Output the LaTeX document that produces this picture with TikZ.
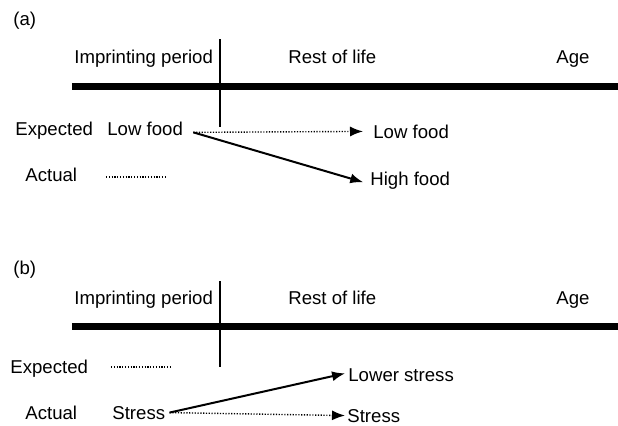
\documentclass[tikz,border=0pt]{standalone}
\usepackage{fontspec}
\setmainfont{Liberation Sans}
\usepackage{tikz}
\usetikzlibrary{arrows.meta}

\tikzset{
	lbl/.style={shape=rectangle,inner sep=0pt,anchor=base west,font=\fontsize{9.3}{11}\selectfont},
	axis/.style={line width=3.5pt},
	split/.style={line width=1.2pt},
	dots/.style={line width=0.7pt,dash pattern=on 0.6pt off 0.8pt},
	tip/.style={-{Latex[length=6.5pt,width=5pt]}},
	arr/.style={line width=1pt,tip}
}

\begin{document}
\begin{tikzpicture}[x=0.5pt,y=-0.5pt]
	\useasboundingbox (0,0) rectangle (618,425);
	
	% panel (a)
	\node[lbl] (tagA) at (13,25) {(a)};
	\node[lbl] (impA) at (74,63.5) {Imprinting period};
	\node[lbl] (restA) at (288,63.5) {Rest of life};
	\node[lbl] (ageA) at (556,63.5) {Age};
	\coordinate (axA0) at (72,86);
	\coordinate (axA1) at (618,86);
	\coordinate (cutA0) at (220,39);
	\coordinate (cutA1) at (220,127);
	\draw[axis] (axA0) -- (axA1);
	\draw[split] (cutA0) -- (cutA1);
	
	\node[lbl] (expA) at (15,135) {Expected};
	\node[lbl] (lowA) at (107,135) {Low food};
	\node[lbl] (lowOut) at (373,138) {Low food};
	\node[lbl] (actA) at (25,181) {Actual};
	\node[lbl] (highOut) at (370,185) {High food};
	\coordinate (actA0) at (106,177);
	\coordinate (actA1) at (165,177);
	
	\draw[dots,tip,shorten >=5pt] (lowA.east) ++(10,4) -- (lowOut.west);
	\draw[arr,shorten >=3.5pt] (lowA.east) ++(10,4) -- ([yshift=-2pt]highOut.west);
	\draw[dots] (actA0) -- (actA1);
	
	% panel (b)
	\node[lbl] (tagB) at (13,274) {(b)};
	\node[lbl] (impB) at (74,304) {Imprinting period};
	\node[lbl] (restB) at (288,304) {Rest of life};
	\node[lbl] (ageB) at (556,304) {Age};
	\coordinate (axB0) at (72,326);
	\coordinate (axB1) at (618,326);
	\coordinate (cutB0) at (220,281);
	\coordinate (cutB1) at (220,367);
	\draw[axis] (axB0) -- (axB1);
	\draw[split] (cutB0) -- (cutB1);
	
	\node[lbl] (expB) at (10,373) {Expected};
	\coordinate (expB0) at (111,367);
	\coordinate (expB1) at (170,367);
	\node[lbl] (actB) at (25,419) {Actual};
	\node[lbl] (stressB) at (112,419) {Stress};
	\node[lbl] (lowerOut) at (348,381) {Lower stress};
	\node[lbl] (stressOut) at (347,422) {Stress};
	
	\draw[dots] (expB0) -- (expB1);
	\draw[arr,shorten >=1.5pt] (stressB.east) ++(4,0) -- ([yshift=1pt]lowerOut.west);
	\draw[dots,tip,shorten >=1pt] (stressB.east) ++(4,0) -- (stressOut.west);
\end{tikzpicture}
\end{document}
